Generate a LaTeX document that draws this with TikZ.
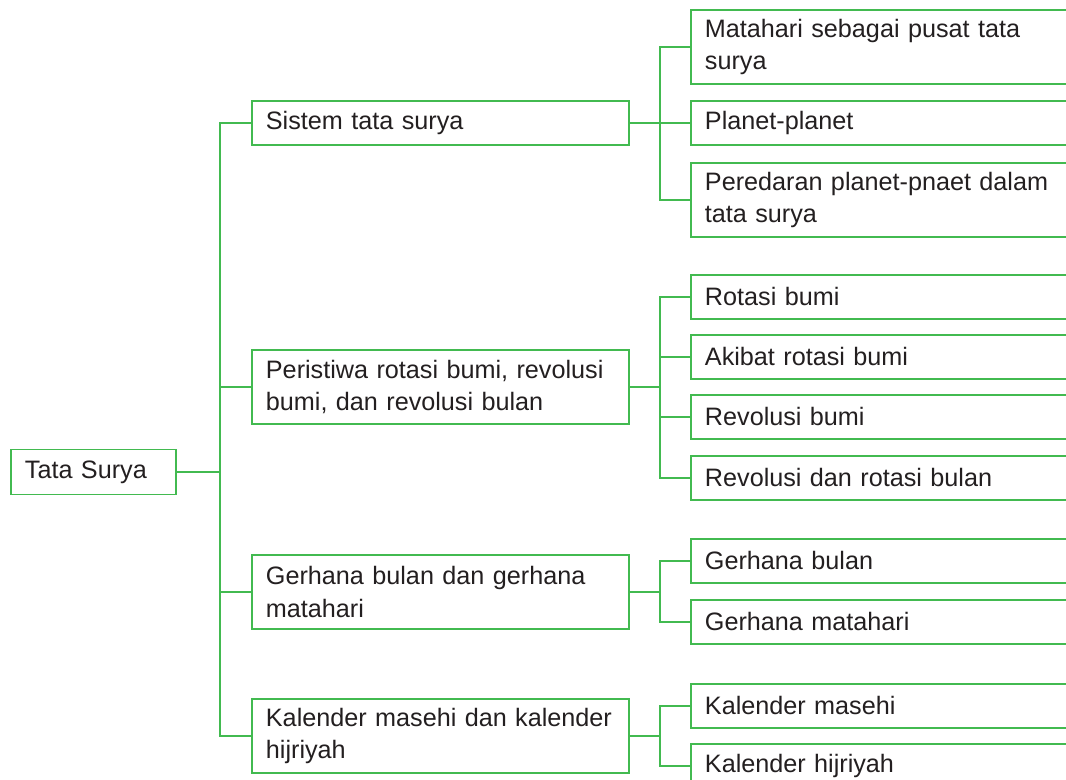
\documentclass[tikz,border=0pt]{standalone}
\usepackage{fontspec}
\setmainfont{Liberation Sans}
\definecolor{lg}{RGB}{66,186,80}
\definecolor{tx}{RGB}{35,31,32}
\begin{document}
\begin{tikzpicture}[x=0.75pt,y=-0.75pt,
  box/.style={draw=lg, line width=1.4pt, rectangle, anchor=north west, align=left,
    inner xsep=10.5pt, inner ysep=0pt, text=tx, font=\fontsize{18.9pt}{24.5pt}\selectfont},
  conn/.style={draw=lg, line width=1.4pt},
  lzero/.style={box, minimum width=123.75pt, text width=102.75pt},
  lone/.style={box, minimum width=282.75pt, text width=261.75pt},
  ltwo/.style={box, minimum width=307.5pt, text width=286.5pt},
  hone/.style={minimum height=33pt},
  htwo/.style={minimum height=55.5pt}]
\useasboundingbox (0,0) rectangle (1066,780);
\clip (0,0) rectangle (1066,780);
\fill[white] (0,0) rectangle (1066,780);

\node[lzero, minimum height=33.75pt] (root) at (10,448.5) {Tata Surya};

\node[lone,hone] (a) at (251,100) {Sistem tata surya};
\node[lone,htwo] (b) at (251,349) {Peristiwa rotasi bumi, revolusi\\bumi, dan revolusi bulan};
\node[lone,htwo] (c) at (251,554) {Gerhana bulan dan gerhana\\matahari};
\node[lone,htwo] (d) at (251,698) {Kalender masehi dan kalender\\hijriyah};

\node[ltwo,htwo] (a1) at (690,9) {Matahari sebagai pusat tata\\surya};
\node[ltwo,hone] (a2) at (690,100) {Planet-planet};
\node[ltwo,htwo] (a3) at (690,162) {Peredaran planet-pnaet dalam\\tata surya};

\node[ltwo,hone] (b1) at (690,274) {Rotasi bumi};
\node[ltwo,hone] (b2) at (690,334) {Akibat rotasi bumi};
\node[ltwo,hone] (b3) at (690,394) {Revolusi bumi};
\node[ltwo,hone] (b4) at (690,455) {Revolusi dan rotasi bulan};

\node[ltwo,hone] (c1) at (690,538) {Gerhana bulan};
\node[ltwo,hone] (c2) at (690,599) {Gerhana matahari};

\node[ltwo,hone] (d1) at (690,683) {Kalender masehi};
\node[ltwo,hone] (d2) at (690,743) {Kalender hijriyah};

\coordinate (j0) at (220,0);
\coordinate (j1) at (660,0);

\foreach \n in {a,b,c,d}
  \draw[conn] (root.east) -- (root.east -| j0) |- (\n.west);
\foreach \n in {a1,a2,a3}
  \draw[conn] (a.east) -- (a.east -| j1) |- (\n.west);
\foreach \n in {b1,b2,b3,b4}
  \draw[conn] (b.east) -- (b.east -| j1) |- (\n.west);
\foreach \n in {c1,c2}
  \draw[conn] (c.east) -- (c.east -| j1) |- (\n.west);
\foreach \n in {d1,d2}
  \draw[conn] (d.east) -- (d.east -| j1) |- (\n.west);
\end{tikzpicture}
\end{document}
